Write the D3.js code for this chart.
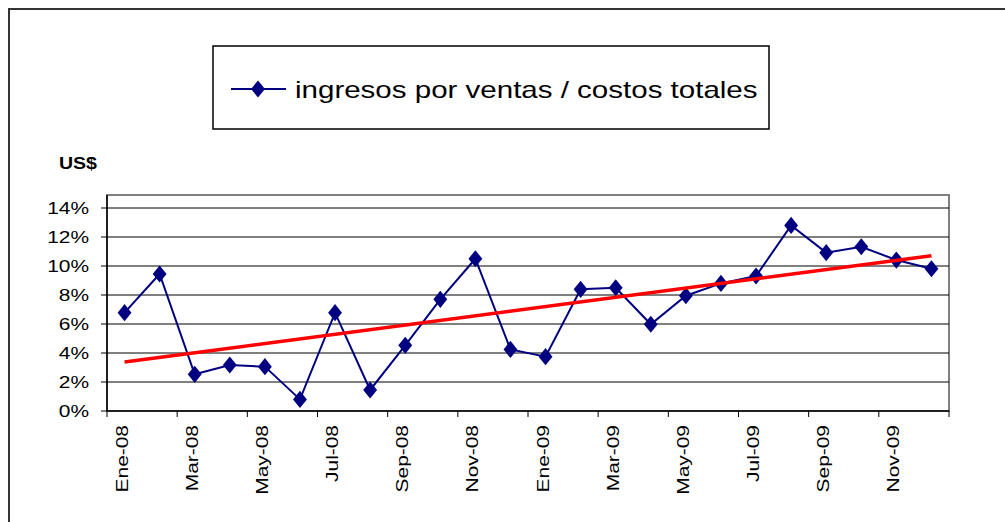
<!DOCTYPE html>
<html>
<head>
<meta charset="utf-8">
<script src="https://cdn.jsdelivr.net/npm/d3@7"></script>
<style>
  body { margin: 0; background: #fff; }
  svg { display: block; font-family: "Liberation Sans", Arial, sans-serif; }
</style>
</head>
<body>
<div id="chart"></div>
<script>
const months = ["Ene-08","Feb-08","Mar-08","Abr-08","May-08","Jun-08","Jul-08","Ago-08","Sep-08","Oct-08","Nov-08","Dic-08",
                "Ene-09","Feb-09","Mar-09","Abr-09","May-09","Jun-09","Jul-09","Ago-09","Sep-09","Oct-09","Nov-09","Dic-09"];
const ratio = [6.78, 9.45, 2.53, 3.17, 3.06, 0.8, 6.78, 1.45, 4.53, 7.7, 10.5, 4.25,
               3.75, 8.39, 8.5, 5.98, 7.95, 8.8, 9.31, 12.8, 10.92, 11.33, 10.41, 9.81];
const yTicks = [0, 2, 4, 6, 8, 10, 12, 14];
const seriesName = "ingresos por ventas / costos totales";

const width = 1005, height = 522;
const plot = { left: 107, right: 949, top: 195, bottom: 411 };
const stretch = 1.23; // the original text is a bit wide

const svg = d3.select("#chart").append("svg")
    .attr("width", width).attr("height", height);

// outer chart frame (right and bottom run off the picture)
svg.append("path")
    .attr("d", `M9,${height + 5}V9H${width + 5}`)
    .attr("fill", "none").attr("stroke", "#333").attr("stroke-width", 2);

const x = d3.scaleBand().domain(months).range([plot.left, plot.right]).padding(0);
const y = d3.scaleLinear().domain([0, 14]).range([plot.bottom, 208]);
const cx = d => x(d) + x.bandwidth() / 2;

// plot frame
svg.append("rect")
    .attr("x", plot.left).attr("y", plot.top)
    .attr("width", plot.right - plot.left).attr("height", plot.bottom - plot.top)
    .attr("fill", "none").attr("stroke", "#808080").attr("stroke-width", 2);

// gridlines
svg.selectAll("line.grid")
    .data(yTicks.filter(t => t > 0))
    .enter().append("line").classed("grid", true)
    .attr("x1", plot.left).attr("x2", plot.right)
    .attr("y1", d => y(d)).attr("y2", d => y(d))
    .attr("stroke", "#000").attr("stroke-width", 1);

// y axis
svg.append("line")
    .attr("x1", plot.left).attr("x2", plot.left)
    .attr("y1", plot.top).attr("y2", plot.bottom)
    .attr("stroke", "#000").attr("stroke-width", 1.5);
svg.selectAll("line.ytick")
    .data(yTicks).enter().append("line").classed("ytick", true)
    .attr("x1", plot.left - 6).attr("x2", plot.left)
    .attr("y1", d => y(d)).attr("y2", d => y(d))
    .attr("stroke", "#000");
svg.selectAll("text.ylab")
    .data(yTicks).enter().append("text").classed("ylab", true)
    .attr("transform", d => `translate(89,${y(d)}) scale(${stretch},1)`)
    .attr("dy", "0.36em")
    .attr("text-anchor", "end").attr("font-size", 17)
    .text(d => d + "%");

// x axis
svg.append("line")
    .attr("x1", plot.left).attr("x2", plot.right)
    .attr("y1", plot.bottom).attr("y2", plot.bottom)
    .attr("stroke", "#000").attr("stroke-width", 1.5);
const tickCats = months.filter((m, i) => i % 2 === 0);
const tickPos = tickCats.map(m => x(m)).concat([plot.right]);
svg.selectAll("line.xtick")
    .data(tickPos).enter().append("line").classed("xtick", true)
    .attr("x1", d => d).attr("x2", d => d)
    .attr("y1", plot.bottom).attr("y2", plot.bottom + 6)
    .attr("stroke", "#000");
svg.selectAll("text.xlab")
    .data(tickCats).enter().append("text").classed("xlab", true)
    .attr("transform", d => `translate(${cx(d) + 3},${plot.bottom + 14}) rotate(-90) scale(${stretch},1)`)
    .attr("text-anchor", "end").attr("font-size", 17)
    .text(d => d);

// y unit label
svg.append("text")
    .attr("transform", `translate(59,169) scale(1.15,1)`)
    .attr("font-size", 17).attr("font-weight", "bold")
    .text("US$");

// series line
const line = d3.line().x((d, i) => cx(months[i])).y(d => y(d));
svg.append("path")
    .datum(ratio)
    .attr("d", line)
    .attr("fill", "none").attr("stroke", "#000080").attr("stroke-width", 2);

const diamond = d3.symbol().type(d3.symbolDiamond).size(85);
svg.selectAll("path.mark")
    .data(ratio).enter().append("path").classed("mark", true)
    .attr("d", diamond)
    .attr("transform", (d, i) => `translate(${cx(months[i])},${y(d)}) scale(1.4,1)`)
    .attr("fill", "#000080");

// linear trend (least squares)
const n = ratio.length;
const mx = d3.mean(ratio, (d, i) => i);
const my = d3.mean(ratio);
const slope = d3.sum(ratio, (d, i) => (i - mx) * (d - my)) / d3.sum(ratio, (d, i) => (i - mx) * (i - mx));
const icpt = my - slope * mx;
svg.append("line")
    .attr("x1", cx(months[0])).attr("y1", y(icpt))
    .attr("x2", cx(months[n - 1])).attr("y2", y(icpt + slope * (n - 1)))
    .attr("stroke", "#ff0000").attr("stroke-width", 3.5);

// legend
const lg = svg.append("g");
lg.append("rect")
    .attr("x", 213).attr("y", 46).attr("width", 556).attr("height", 83)
    .attr("fill", "#fff").attr("stroke", "#000").attr("stroke-width", 1.5);
lg.append("line")
    .attr("x1", 231).attr("x2", 286).attr("y1", 89).attr("y2", 89)
    .attr("stroke", "#000080").attr("stroke-width", 2);
lg.append("path")
    .attr("d", diamond)
    .attr("transform", "translate(258,89) scale(1.4,1)")
    .attr("fill", "#000080");
lg.append("text")
    .attr("transform", `translate(295,98) scale(${stretch},1)`)
    .attr("font-size", 24)
    .text(seriesName);
</script>
</body>
</html>
